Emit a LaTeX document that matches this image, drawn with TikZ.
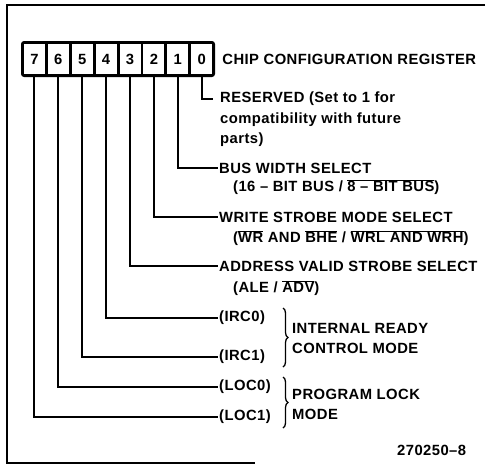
\documentclass[tikz,border=0pt]{standalone}
\usepackage{fontspec}
\setmainfont{Liberation Sans}[LetterSpace=3]
\usepackage{tikz}
\usetikzlibrary{positioning,decorations.pathreplacing}
\newcommand{\barra}[1]{$\overline{\mbox{#1}}$}

\begin{document}
\begin{tikzpicture}[x=1pt,y=-1pt,
  font=\fontsize{14.8}{20}\selectfont\bfseries,
  registro/.style={fill=black,rounded corners=3pt,minimum width=194pt,minimum height=36pt,inner sep=0pt},
  celda/.style={fill=white,minimum width=21pt,minimum height=30pt,inner sep=0pt},
  texto/.style={anchor=west,inner sep=1pt},
  grupo/.style={anchor=west,inner sep=1pt,align=left},
  linea/.style={line width=2pt},
  llave/.style={decorate,decoration={brace,amplitude=5pt},line width=1.3pt},
  marco/.style={line width=1.2pt}]
\useasboundingbox (0,0) rectangle (495,467);
\draw[marco] (485,5) -- (7,5) -- (7,463) -- (255,463);
\node[registro] (reg) at (118,59) {};
\node[celda] (b7) at (34.4,59) {7};
\node[celda] (b6) at (58.3,59) {6};
\node[celda] (b5) at (82.2,59) {5};
\node[celda] (b4) at (106.1,59) {4};
\node[celda] (b3) at (130,59) {3};
\node[celda] (b2) at (153.9,59) {2};
\node[celda] (b1) at (177.8,59) {1};
\node[celda] (b0) at (201.7,59) {0};
\node[texto,right=6pt of reg] (titulo) {CHIP CONFIGURATION REGISTER};
\node[texto] (t0) at (219,99) {RESERVED (Set to 1 for};
\node[texto] (t0b) at (219,120) {compatibility with future};
\node[texto] (t0c) at (219,140) {parts)};
\node[texto] (t1) at (218,168) {BUS WIDTH SELECT};
\node[texto] (t1b) at (232,187) {(16 – BIT BUS / \barra{8 – BIT BUS})};
\node[texto] (t2) at (218,217) {WRITE STROBE MODE SELECT};
\node[texto] (t2b) at (232,238) {(\barra{WR} AND \barra{BHE} / \barra{WRL AND WRH})};
\node[texto] (t3) at (218,266) {ADDRESS VALID STROBE SELECT};
\node[texto] (t3b) at (232,288) {(ALE / \barra{ADV})};
\node[texto] (t4) at (218,318) {(IRC0)};
\node[texto] (t5) at (218,357) {(IRC1)};
\node[texto] (t6) at (218,387) {(LOC0)};
\node[texto] (t7) at (218,417) {(LOC1)};
\coordinate (irca) at (283,308);
\coordinate (ircb) at (283,367);
\coordinate (loca) at (283,377);
\coordinate (locb) at (283,428);
\node[grupo] (irc) at (291,338) {INTERNAL READY\\CONTROL MODE};
\node[grupo] (loc) at (291,404) {PROGRAM LOCK\\MODE};
\node[texto] (fig) at (396,450) {270250–8};
\draw[linea] (b0.south) |- ([xshift=-6pt]t0.west);
\draw[linea] (b1.south) |- (t1.west);
\draw[linea] (b2.south) |- (t2.west);
\draw[linea] (b3.south) |- (t3.west);
\draw[linea] (b4.south) |- (t4.west);
\draw[linea] (b5.south) |- (t5.west);
\draw[linea] (b6.south) |- (t6.west);
\draw[linea] (b7.south) |- (t7.west);
\draw[llave] (irca) -- (ircb);
\draw[llave] (loca) -- (locb);
\end{tikzpicture}
\end{document}
